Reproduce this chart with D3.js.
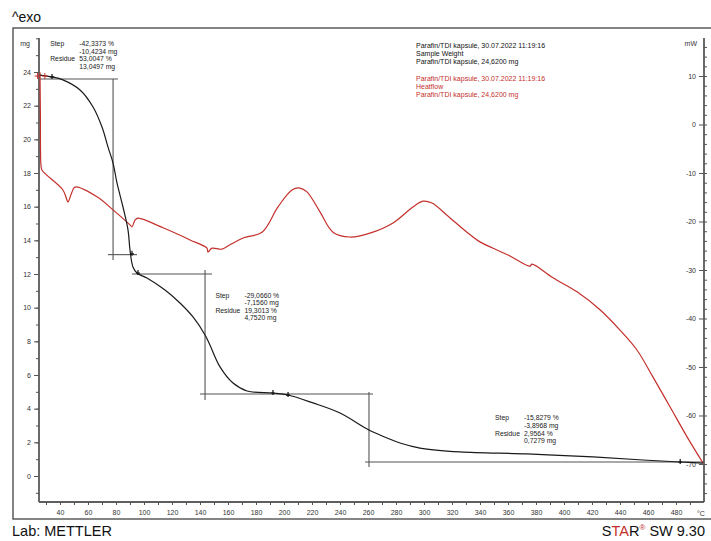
<!DOCTYPE html>
<html>
<head>
<meta charset="utf-8">
<script src="https://cdn.jsdelivr.net/npm/d3@7"></script>
<style>
  html, body { margin: 0; padding: 0; background: #fff; }
  svg { display: block; }
  text { font-family: "Liberation Sans", Arial, sans-serif; }
</style>
</head>
<body>
<svg id="chart" width="711" height="541"></svg>
<script>
// ---------- data ----------
const tgaTemp = [25.7, 34.3, 42.1, 54.3, 63.6, 70.0, 74.3, 77.9, 80.7, 85.0, 88.6, 90.0, 92.1, 95.0, 102.1, 115.0, 125.7, 135.0, 143.6, 147.1, 154.3, 163.6, 173.6, 192.1, 202.9, 220.7, 240.0, 260.7, 273.6, 282.9, 297.1, 325.7, 373.6, 420.7, 456.4, 482.9, 499.3];
const tgaMass = [23.82, 23.71, 23.53, 22.93, 21.92, 20.73, 19.54, 18.59, 17.41, 15.98, 14.61, 13.43, 12.42, 12.06, 11.76, 11.05, 10.28, 9.45, 8.38, 7.78, 6.48, 5.52, 5.05, 4.93, 4.81, 4.34, 3.74, 2.73, 2.26, 1.96, 1.66, 1.43, 1.31, 1.13, 0.95, 0.83, 0.77];

const dscTemp = [25.7, 26.0, 26.4, 27.1, 42.1, 45.0, 45.7, 48.6, 50.7, 66.4, 77.9, 90.0, 91.4, 93.6, 95.7, 113.6, 132.9, 145.0, 145.7, 148.6, 155.7, 161.4, 170.7, 184.3, 195.7, 205.7, 211.4, 216.4, 225.7, 235.0, 247.1, 261.4, 277.9, 292.1, 299.3, 305.7, 316.4, 330.7, 340.0, 349.3, 361.4, 375.7, 377.1, 392.1, 409.3, 425.7, 440.0, 452.1, 463.6, 475.7, 487.9, 499.3];
const dscHeat = [10.8, 2.0, -8.35, -9.38, -13.5, -15.6, -16.0, -13.9, -12.9, -14.9, -17.6, -20.7, -21.1, -19.7, -19.3, -21.3, -23.8, -25.5, -26.3, -25.5, -25.7, -24.8, -23.4, -22.2, -17.0, -13.5, -13.1, -13.9, -18.0, -22.2, -23.2, -22.4, -20.3, -17.0, -15.8, -16.2, -18.7, -22.2, -24.2, -25.5, -27.1, -29.2, -28.8, -31.6, -34.5, -38.2, -42.4, -46.5, -52.1, -58.2, -64.4, -69.8];

// step evaluation construction lines: [t1, m1, t2, m2]
const stepLines = [
  [25.7, 23.58, 81.4, 23.58],
  [77.9, 23.58, 77.9, 12.83],
  [74.3, 13.15, 95.0, 13.15],
  [91.4, 12.0, 148.6, 12.0],
  [143.6, 12.24, 143.6, 4.51],
  [140.0, 4.87, 263.6, 4.87],
  [260.7, 4.99, 260.7, 0.53],
  [257.9, 0.83, 500, 0.83]
];
const tgaMarkTemp = [34.3, 91.4, 95.7, 192.1, 202.9, 483.0];
const tgaMarkMass = [23.71, 13.2, 12.06, 4.93, 4.81, 0.83];

const stepTexts = [
  { t: 33, m: 25.55, rows: [["Step", "-42,3373 %"], ["", "-10,4234 mg"], ["Residue", "53,0047 %"], ["", "13,0497 mg"]] },
  { t: 151, m: 10.6, rows: [["Step", "-29,0660 %"], ["", "-7,1560 mg"], ["Residue", "19,3013 %"], ["", "4,7520 mg"]] },
  { t: 350.7, m: 3.3, rows: [["Step", "-15,8279 %"], ["", "-3,8968 mg"], ["Residue", "2,9564 %"], ["", "0,7279 mg"]] }
];

const legendBlack = ["Parafin/TDI kapsule, 30.07.2022 11:19:16", "Sample Weight", "Parafin/TDI kapsule, 24,6200 mg"];
const legendRed = ["Parafin/TDI kapsule, 30.07.2022 11:19:16", "Heatflow", "Parafin/TDI kapsule, 24,6200 mg"];

const xTicks = d3.range(40, 481, 20);
const yLeftTicks = d3.range(0, 25, 2);
const yRightTicks = d3.range(-70, 11, 10);

// ---------- scales ----------
const svg = d3.select("#chart");
const x = d3.scaleLinear().domain([25, 500]).range([39, 704]);
const yL = d3.scaleLinear().domain([-1.545, 26.02]).range([502, 38]);
const yR = d3.scaleLinear().domain([-77.84, 17.84]).range([502, 38]);

const RED = "#c4302b";
const AX = "#555";
const fmt = d => String(d);

// frame
svg.append("rect").attr("x", 13).attr("y", 28).attr("width", 710).attr("height", 491)
  .attr("fill", "none").attr("stroke", "#444").attr("stroke-width", 1.3);

// header / footer
svg.append("text").attr("x", 12).attr("y", 22).attr("font-size", 14).attr("fill", "#111").text("^exo");
svg.append("text").attr("x", 12).attr("y", 536).attr("font-size", 14.5).attr("fill", "#111").text("Lab: METTLER");
const star = svg.append("text").attr("x", 705).attr("y", 536).attr("font-size", 14.5).attr("fill", "#111").attr("text-anchor", "end");
star.append("tspan").text("S");
star.append("tspan").attr("fill", RED).text("TA");
star.append("tspan").text("R");
star.append("tspan").attr("font-size", 8).attr("dy", -6).attr("fill", RED).text("®");
star.append("tspan").attr("dy", 6).text(" SW 9.30");

// ---------- axes ----------
const tickFont = 7;
// left
const gL = svg.append("g").attr("transform", "translate(39,0)");
gL.call(d3.axisLeft(yL).tickValues(d3.range(-1, 27, 1)).tickSize(3).tickFormat(""));
gL.call(g => g.append("g").call(d3.axisLeft(yL).tickValues(yLeftTicks).tickSize(5).tickPadding(3).tickFormat(fmt)));
gL.selectAll("path.domain").attr("d", "M0,38V502");
// bottom
const gB = svg.append("g").attr("transform", "translate(0,502)");
gB.call(d3.axisBottom(x).tickValues(d3.range(30, 500, 10)).tickSize(3).tickFormat(""));
gB.call(g => g.append("g").call(d3.axisBottom(x).tickValues(xTicks).tickSize(3).tickPadding(5).tickFormat(fmt)));
gB.selectAll("path.domain").attr("d", "M39,0H704");
// right
const gR = svg.append("g").attr("transform", "translate(704,0)");
gR.call(d3.axisRight(yR).tickValues(d3.range(-76, 18, 2)).tickSize(3).tickFormat(""));
gR.call(g => g.append("g").call(d3.axisLeft(yR).tickValues(yRightTicks).tickSize(5).tickPadding(3).tickFormat(fmt)));
gR.selectAll("path.domain").attr("d", "M0,38V502");

svg.selectAll(".tick line").attr("stroke", AX);
svg.selectAll("path.domain").attr("stroke", AX).attr("stroke-width", 1.3);
svg.selectAll(".tick text").attr("font-size", tickFont).attr("fill", "#333")
  .attr("font-family", "'Liberation Sans', Arial, sans-serif");

// unit labels
svg.append("text").attr("x", 30).attr("y", 46).attr("font-size", tickFont).attr("fill", "#333").attr("text-anchor", "end").text("mg");
svg.append("text").attr("x", 697).attr("y", 46).attr("font-size", tickFont).attr("fill", "#333").attr("text-anchor", "end").text("mW");
svg.append("text").attr("x", 697).attr("y", 516).attr("font-size", tickFont).attr("fill", "#333").text("°C");

// ---------- step construction lines ----------
svg.append("g").selectAll("line").data(stepLines).join("line")
  .attr("x1", d => x(d[0])).attr("y1", d => yL(d[1]))
  .attr("x2", d => x(d[2])).attr("y2", d => yL(d[3]))
  .attr("stroke", "#555").attr("stroke-width", 1.1);

// ---------- curves ----------
const dscLine = d3.line().x(d => x(d[0])).y(d => yR(d[1])).curve(d3.curveCatmullRom.alpha(0.5));
svg.append("path").datum(dscTemp.map((t, i) => [t, dscHeat[i]]))
  .attr("d", dscLine).attr("fill", "none").attr("stroke", RED).attr("stroke-width", 1.2);

const tgaLine = d3.line().x(d => x(d[0])).y(d => yL(d[1])).curve(d3.curveCatmullRom.alpha(0.5));
svg.append("path").datum(tgaTemp.map((t, i) => [t, tgaMass[i]]))
  .attr("d", tgaLine).attr("fill", "none").attr("stroke", "#1a1a1a").attr("stroke-width", 1.2);

// markers
svg.append("g").selectAll("path").data(tgaMarkTemp.map((t, i) => [t, tgaMarkMass[i]])).join("path")
  .attr("d", d => `M${x(d[0])},${yL(d[1]) - 3}v5M${x(d[0]) - 2},${yL(d[1])}h4`)
  .attr("stroke", "#111").attr("stroke-width", 1.2);
svg.append("g").selectAll("path").data([[24.0, 10.0], [29.2, 10.0]]).join("path")
  .attr("d", d => `M${x(d[0])},${yR(d[1]) - 3}v6M${x(d[0]) - 3},${yR(d[1])}h6`)
  .attr("stroke", RED).attr("stroke-width", 1);

// ---------- step texts ----------
stepTexts.forEach(s => {
  const g = svg.append("g").attr("transform", `translate(${x(s.t)},${yL(s.m)})`);
  s.rows.forEach((r, i) => {
    g.append("text").attr("x", 0).attr("y", i * 7.6).attr("font-size", 6.8).attr("fill", "#222").text(r[0]);
    g.append("text").attr("x", 29).attr("y", i * 7.6).attr("font-size", 6.8).attr("fill", "#222").text(r[1]);
  });
});

// ---------- legend ----------
legendBlack.forEach((t, i) => {
  svg.append("text").attr("x", 416).attr("y", 48 + i * 7.8).attr("font-size", 7).attr("fill", "#111").text(t);
});
legendRed.forEach((t, i) => {
  svg.append("text").attr("x", 416).attr("y", 81 + i * 7.8).attr("font-size", 7).attr("fill", RED).text(t);
});
</script>
</body>
</html>
